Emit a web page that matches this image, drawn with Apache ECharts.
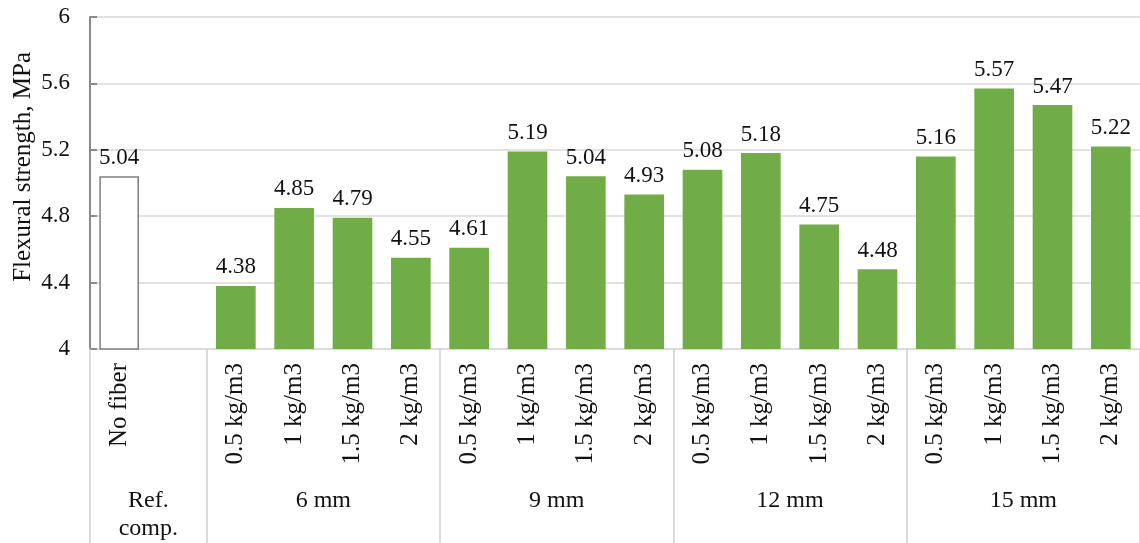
<!DOCTYPE html>
<html>
<head>
<meta charset="utf-8">
<script src="https://cdn.jsdelivr.net/npm/echarts@6/dist/echarts.min.js"></script>
<style>
html,body{margin:0;padding:0;background:#fff;}
#chart{width:1140px;height:543px;}
</style>
</head>
<body>
<div id="chart"></div>
<script>
// ---- data ----
const categories = ['No fiber', '',
  '0.5 kg/m3', '1 kg/m3', '1.5 kg/m3', '2 kg/m3',
  '0.5 kg/m3', '1 kg/m3', '1.5 kg/m3', '2 kg/m3',
  '0.5 kg/m3', '1 kg/m3', '1.5 kg/m3', '2 kg/m3',
  '0.5 kg/m3', '1 kg/m3', '1.5 kg/m3', '2 kg/m3'];
const values = [5.04, null,
  4.38, 4.85, 4.79, 4.55,
  4.61, 5.19, 5.04, 4.93,
  5.08, 5.18, 4.75, 4.48,
  5.16, 5.57, 5.47, 5.22];
const groupNames = ['Ref.\ncomp.', '6 mm', '9 mm', '12 mm', '15 mm'];
const groupSizes = [2, 4, 4, 4, 4];
const yTicks = [4, 4.4, 4.8, 5.2, 5.6, 6];
const yTitle = 'Flexural strength, MPa';

// ---- derived group positions (in category slot units) ----
const boundaries = [0];
const centers = [];
groupSizes.forEach(s => {
  const start = boundaries[boundaries.length - 1];
  centers.push(start + s / 2);
  boundaries.push(start + s);
});
const nSlots = boundaries[boundaries.length - 1];

const FONT = '"Liberation Serif", "Times New Roman", serif';
const GREEN = '#70AD47';

const seriesData = values.map((v, i) => {
  if (i === 0) {
    return { value: v, itemStyle: { color: '#ffffff', borderColor: '#7f7f7f', borderWidth: 1.5 } };
  }
  return { value: v };
});

const chart = echarts.init(document.getElementById('chart'), null, { renderer: 'canvas' });
chart.setOption({
  animation: false,
  backgroundColor: '#ffffff',
  grid: { left: 90, right: -5, top: 17, bottom: 192, containLabel: false },
  graphic: [
    {
      type: 'text',
      left: 11,
      top: 52,
      rotation: Math.PI / 2,
      style: {
        text: yTitle,
        fontFamily: FONT,
        fontSize: 25,
        fill: '#111'
      }
    }
  ],
  xAxis: [
    {
      type: 'category',
      data: categories,
      position: 'bottom',
      boundaryGap: true,
      axisLine: { show: true, lineStyle: { color: '#d9d9d9', width: 1.5 } },
      axisTick: { show: false },
      axisLabel: {
        interval: 0,
        rotate: 90,
        margin: 14,
        fontFamily: FONT,
        fontSize: 25,
        color: '#111'
      },
      splitLine: { show: false }
    },
    {
      type: 'value',
      min: 0,
      max: nSlots,
      position: 'bottom',
      axisLine: { show: false },
      axisTick: {
        show: true,
        customValues: boundaries,
        length: 200,
        lineStyle: { color: '#d0d0d0', width: 1.5 }
      },
      axisLabel: {
        customValues: centers,
        formatter: v => {
          const idx = centers.findIndex(c => Math.abs(c - v) < 1e-6);
          return idx >= 0 ? groupNames[idx] : '';
        },
        margin: 138,
        verticalAlign: 'top',
        lineHeight: 28,
        fontFamily: FONT,
        fontSize: 24,
        color: '#111'
      },
      splitLine: { show: false }
    }
  ],
  yAxis: {
    type: 'value',
    min: yTicks[0],
    max: yTicks[yTicks.length - 1],
    interval: 0.4,
    axisLine: { show: true, lineStyle: { color: '#8a8a8a', width: 2 } },
    axisTick: { show: true, inside: true, length: 7, lineStyle: { color: '#8a8a8a', width: 2 } },
    axisLabel: {
      margin: 20,
      fontFamily: FONT,
      fontSize: 23,
      color: '#111',
      formatter: v => String(+v.toFixed(1))
    },
    splitLine: { show: true, lineStyle: { color: '#d9d9d9', width: 1.5 } }
  },
  series: [
    {
      type: 'bar',
      xAxisIndex: 0,
      yAxisIndex: 0,
      data: seriesData,
      barCategoryGap: '32%',
      itemStyle: { color: GREEN },
      label: {
        show: true,
        position: 'top',
        distance: 7,
        fontFamily: FONT,
        fontSize: 23,
        color: '#111',
        formatter: p => (p.value == null ? '' : Number(p.value).toFixed(2))
      }
    }
  ]
});
</script>
</body>
</html>
